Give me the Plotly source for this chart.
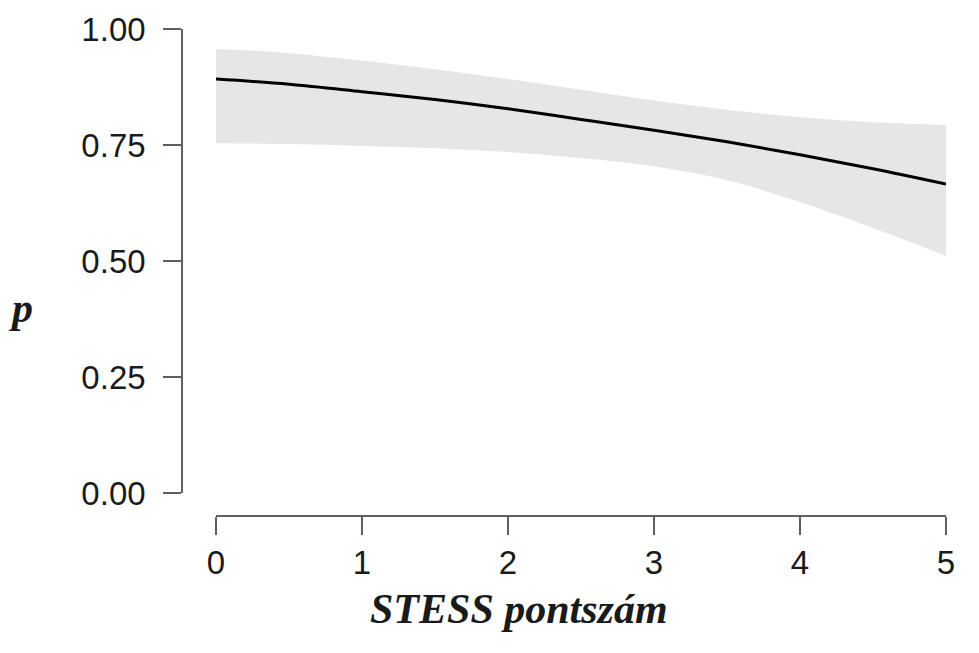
import plotly.graph_objects as go

# Data
stess = [0, 0.5, 1, 1.5, 2, 2.5, 3, 3.5, 4, 4.5, 5]
p_fit = [0.892, 0.881, 0.865, 0.848, 0.828, 0.805, 0.782, 0.757, 0.729, 0.699, 0.666]
p_upper = [0.957, 0.948, 0.932, 0.913, 0.892, 0.869, 0.846, 0.826, 0.810, 0.799, 0.793]
p_lower = [0.754, 0.752, 0.748, 0.743, 0.735, 0.722, 0.704, 0.674, 0.627, 0.571, 0.511]

x_ticks = [0, 1, 2, 3, 4, 5]
y_ticks = [0, 0.25, 0.5, 0.75, 1.0]
y_ticklabels = ["0.00", "0.25", "0.50", "0.75", "1.00"]

W, H = 979, 653
AX = "#5f5f5f"

fig = go.Figure()
fig.add_trace(go.Scatter(
    x=stess, y=p_lower, mode="lines",
    line=dict(width=0, shape="spline", color="rgba(0,0,0,0)"),
    hoverinfo="skip", showlegend=False))
fig.add_trace(go.Scatter(
    x=stess, y=p_upper, mode="lines", fill="tonexty", fillcolor="#e6e6e6",
    line=dict(width=0, shape="spline", color="rgba(0,0,0,0)"),
    hoverinfo="skip", showlegend=False))
fig.add_trace(go.Scatter(
    x=stess, y=p_fit, mode="lines",
    line=dict(color="black", width=3, shape="spline"), showlegend=False))

fig.update_layout(
    width=W, height=H,
    margin=dict(l=0, r=0, t=0, b=0, autoexpand=False),
    paper_bgcolor="white", plot_bgcolor="white",
    font=dict(family="Liberation Sans, Arial, sans-serif", size=33, color="#1a1a1a"),
    xaxis=dict(
        domain=[216 / W, 946 / W], range=[0, 5],
        tickvals=x_ticks, ticktext=[str(v) for v in x_ticks],
        showgrid=False, zeroline=False, automargin=False,
        showline=True, linecolor=AX, linewidth=1.6,
        ticks="outside", ticklen=18, tickwidth=1.6, tickcolor=AX,
        anchor="free", position=(H - 516) / H,
    ),
    yaxis=dict(
        domain=[(H - 493) / H, (H - 29) / H], range=[0, 1],
        tickvals=y_ticks, ticktext=y_ticklabels,
        showgrid=False, zeroline=False, automargin=False,
        showline=True, linecolor=AX, linewidth=1.6,
        ticks="outside", ticklen=18, tickwidth=1.6, tickcolor=AX,
        ticklabelstandoff=11,
        anchor="free", position=182 / W,
    ),
    annotations=[
        dict(text="<b><i>STESS pontszám</i></b>", xref="paper", yref="paper",
             x=519 / W, y=(H - 609) / H, showarrow=False,
             font=dict(family="Liberation Serif, Times New Roman, serif", size=42, color="#1a1a1a"),
             xanchor="center", yanchor="middle"),
        dict(text="<b><i>p</i></b>", xref="paper", yref="paper",
             x=21 / W, y=(H - 308) / H, showarrow=False,
             font=dict(family="Liberation Serif, Times New Roman, serif", size=42, color="#1a1a1a"),
             xanchor="center", yanchor="middle"),
    ],
)

fig.write_html("out.html")
